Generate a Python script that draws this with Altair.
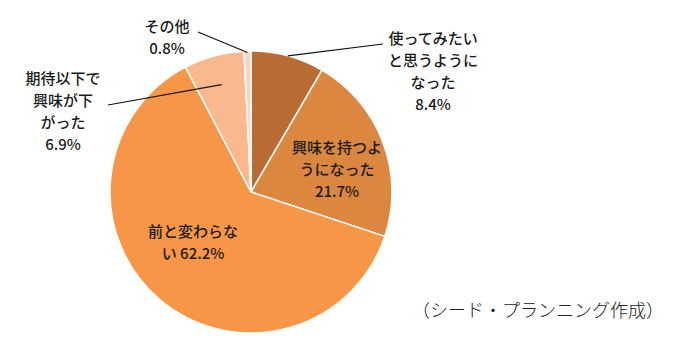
import math
import altair as alt
import pandas as pd

# ---- data ----
categories = ["使ってみたいと思うようになった", "興味を持つようになった", "前と変わらない", "期待以下で興味が下がった", "その他"]
values = [8.4, 21.7, 62.2, 6.9, 0.8]
label_texts = [
    "使ってみたい\nと思うように\nなった\n8.4%",
    "興味を持つよ\nうになった\n21.7%",
    "前と変わらな\nい 62.2%",
    "期待以下で\n興味が下\nがった\n6.9%",
    "その他\n0.8%",
]
colors = ["#B86B32", "#DB8740", "#F79646", "#FAB88E", "#FCD5BF"]
source_note = "（シード・プランニング作成）"

# ---- layout ----
W, H = 662, 339
CX, CY, R = 243, 184, 141
# first-line centre offsets of each label block from pie centre (px)
label_offsets = [(182, -153), (86, -44), (-58, 40), (-188, -113), (-84, -165)]
# leader lines: (radius fraction at slice mid-angle, end dx, end dy) or None
leaders = [(1.0, 132, -148), None, None, (0.79, -143, -87), (0.99, -53, -160)]

df = pd.DataFrame({"cat": categories, "value": values, "idx": range(len(values))})

total = sum(values)
cum = 0
lab_rows, rule_rows = [], []
for i, v in enumerate(values):
    mid = (cum + v / 2) / total * 2 * math.pi
    cum += v
    dx, dy = label_offsets[i]
    lab_rows.append({"text": label_texts[i], "x": CX + dx, "y": CY + dy})
    if leaders[i] is not None:
        f, ex, ey = leaders[i]
        sx = CX + f * R * math.sin(mid)
        sy = CY - f * R * math.cos(mid)
        rule_rows.append({"x": sx, "y": sy, "x2": CX + ex, "y2": CY + ey})

labels = pd.DataFrame(lab_rows)
rules = pd.DataFrame(rule_rows)

arcs = alt.Chart(df).mark_arc(radius=R, stroke="white", strokeWidth=1.5).encode(
    theta=alt.Theta("value:Q", stack=True),
    order=alt.Order("idx:Q"),
    color=alt.Color("cat:N", scale=alt.Scale(domain=categories, range=colors), legend=None),
    x=alt.value(CX),
    y=alt.value(CY),
)

lines = alt.Chart(rules).mark_rule(color="#111", strokeWidth=1.2).encode(
    x=alt.X("x:Q", scale=None),
    y=alt.Y("y:Q", scale=None),
    x2="x2:Q",
    y2="y2:Q",
)

text = alt.Chart(labels).mark_text(
    font="Noto Sans CJK JP", fontSize=15, fontWeight=500, lineBreak="\n", lineHeight=22,
    align="center", baseline="middle", color="#1a1a1a",
).encode(
    x=alt.X("x:Q", scale=None),
    y=alt.Y("y:Q", scale=None),
    text="text:N",
)

note = alt.Chart(pd.DataFrame({"t": [source_note]})).mark_text(
    font="Noto Sans CJK JP", fontSize=18, fontWeight=300, align="center", baseline="middle", color="#222",
).encode(text="t:N", x=alt.value(530), y=alt.value(304))

chart = alt.layer(arcs, lines, text, note).properties(
    width=W, height=H, autosize="none", padding=0
).configure_view(stroke=None)

chart.save("out.html", embed_options={"renderer": "svg", "actions": False})
